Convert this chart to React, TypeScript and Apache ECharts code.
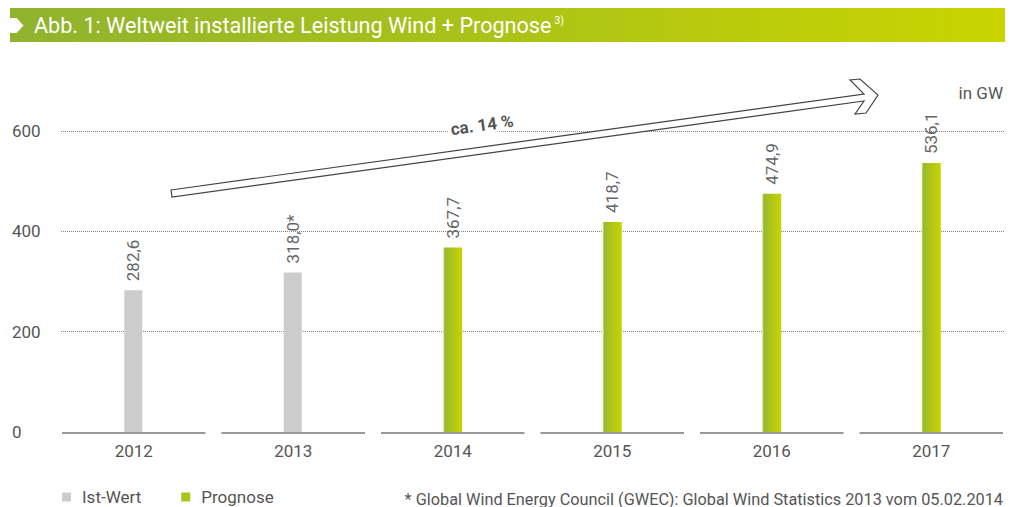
import React, { useEffect, useRef } from "react";
import * as echarts from "echarts";

const years = ["2012", "2013", "2014", "2015", "2016", "2017"];
const istWert = [282.6, 318.0, null, null, null, null];
const prognose = [null, null, 367.7, 418.7, 474.9, 536.1];
const footMarks = ["", "*", "", "", "", ""];
const yTicks = { min: 0, max: 600, interval: 200 };

const FONT = "Roboto, 'Noto Sans', sans-serif";
const GREY_TXT = "#555";

export default function App() {
  const ref = useRef<HTMLDivElement>(null);
  useEffect(() => {
    if (!ref.current) return;
    const chart = echarts.init(ref.current, undefined, { renderer: "svg" });
    const fmt = (p: any) => {
      const v = p.value as number;
      return v.toFixed(1).replace(".", ",") + footMarks[p.dataIndex];
    };
    const barLabel = {
      show: true,
      position: "top",
      rotate: 90,
      align: "left",
      verticalAlign: "middle",
      distance: 9,
      color: "#666",
      fontSize: 17,
      fontFamily: FONT,
      formatter: fmt,
    };
    const green = new echarts.graphic.LinearGradient(0, 0, 1, 0, [
      { offset: 0, color: "#dbe8a8" },
      { offset: 0.08, color: "#9aba2e" },
      { offset: 1, color: "#c8d400" },
    ]);
    chart.setOption({
      animation: false,
      textStyle: { fontFamily: FONT },
      grid: [
        { left: 61, right: 10, top: 131, bottom: 75 },
        { left: 54, right: 4, top: 131, bottom: 75 },
      ],
      xAxis: [
        { type: "value", gridIndex: 0, show: false, min: 0, max: 1 },
        {
          type: "category",
          gridIndex: 1,
          data: years,
          axisLine: { show: false },
          axisTick: { show: false },
          axisLabel: { color: GREY_TXT, fontSize: 17, fontFamily: FONT, margin: 10 },
        },
      ],
      yAxis: [
        {
          type: "value",
          gridIndex: 0,
          min: yTicks.min,
          max: yTicks.max,
          interval: yTicks.interval,
          axisLine: { show: false },
          axisTick: { show: false },
          axisLabel: { color: GREY_TXT, fontSize: 17, fontFamily: FONT, align: "left", margin: 49 },
          splitLine: { show: true, showMinLine: false, lineStyle: { color: "#888", type: [1, 1], width: 1 } },
        },
        { type: "value", gridIndex: 1, min: yTicks.min, max: yTicks.max, show: false },
      ],
      legend: {
        left: 62,
        top: 488,
        padding: 0,
        itemWidth: 9,
        itemHeight: 9,
        itemGap: 40,
        icon: "rect",
        textStyle: { color: GREY_TXT, fontSize: 17, lineHeight: 18, fontFamily: FONT, padding: [0, 0, 0, 6] },
        data: [
          { name: "Ist-Wert", itemStyle: { color: "#cccccc" } },
          { name: "Prognose", itemStyle: { color: "#a9c520" } },
        ],
      },
      series: [
        {
          type: "custom",
          xAxisIndex: 1,
          yAxisIndex: 1,
          silent: true,
          data: years.map((_, i) => [i, 0]),
          renderItem: (params: any, api: any) => {
            const c = api.coord([api.value(0), 0]);
            const w = api.size([1, 0])[0];
            return {
              type: "line",
              shape: { x1: c[0] - w / 2 + 8, y1: c[1] + 1, x2: c[0] + w / 2 - 8, y2: c[1] + 1 },
              style: { stroke: "#999", lineWidth: 2 },
            };
          },
          z: 1,
        },
        {
          name: "Ist-Wert",
          type: "bar",
          xAxisIndex: 1,
          yAxisIndex: 1,
          data: istWert,
          barWidth: 18,
          barGap: "-100%",
          itemStyle: { color: "#cccccc" },
          label: barLabel,
          z: 3,
        },
        {
          name: "Prognose",
          type: "bar",
          xAxisIndex: 1,
          yAxisIndex: 1,
          data: prognose,
          barWidth: 19,
          barGap: "-100%",
          itemStyle: { color: green },
          label: barLabel,
          z: 3,
        },
      ],
      graphic: [
        {
          type: "rect",
          shape: { x: 10, y: 8, width: 995, height: 34 },
          style: {
            fill: new echarts.graphic.LinearGradient(0, 0, 1, 0, [
              { offset: 0, color: "#8fb32e" },
              { offset: 1, color: "#c9d400" },
            ]),
          },
        },
        {
          type: "polygon",
          shape: { points: [[10, 18], [16.5, 18], [23.5, 25.5], [16.5, 33], [10, 33]] },
          style: { fill: "#fff" },
        },
        {
          type: "text",
          x: 34,
          y: 14.5,
          style: {
            text: "Abb. 1: Weltweit installierte Leistung Wind + Prognose{sup| 3)}",
            fill: "#fff",
            font: `21.6px ${FONT}`,
            verticalAlign: "top",
            rich: {
              sup: { fontSize: 11, fontFamily: FONT, fill: "#fff", verticalAlign: "top", lineHeight: 13 },
            },
          },
        },
        {
          type: "text",
          x: 1003,
          y: 93,
          style: { text: "in GW", fill: GREY_TXT, font: `17px ${FONT}`, align: "right", verticalAlign: "middle" },
        },
        {
          type: "polygon",
          z: 10,
          shape: {
            points: [
              [171, 190],
              [864, 94],
              [850, 80],
              [860, 79],
              [878, 95],
              [866, 113],
              [855, 114],
              [864, 101],
              [172, 197],
            ],
          },
          style: { fill: "#fff", stroke: "#444", lineWidth: 1.2 },
        },
        {
          type: "text",
          z: 11,
          x: 482,
          y: 125,
          rotation: 0.137,
          style: {
            text: "ca. 14 %",
            fill: "#555",
            font: `bold 17px ${FONT}`,
            align: "center",
            verticalAlign: "middle",
            backgroundColor: "#fff",
            padding: [0, 3],
          },
        },
        {
          type: "text",
          x: 1003,
          y: 499,
          style: {
            text: "* Global Wind Energy Council (GWEC): Global Wind Statistics 2013 vom 05.02.2014",
            fill: GREY_TXT,
            font: `16.3px ${FONT}`,
            align: "right",
            verticalAlign: "middle",
          },
        },
      ],
    });
    return () => chart.dispose();
  }, []);
  return (
    <div
      ref={ref}
      style={{ position: "fixed", left: 0, top: 0, width: 1015, height: 507, background: "#fff" }}
    />
  );
}
